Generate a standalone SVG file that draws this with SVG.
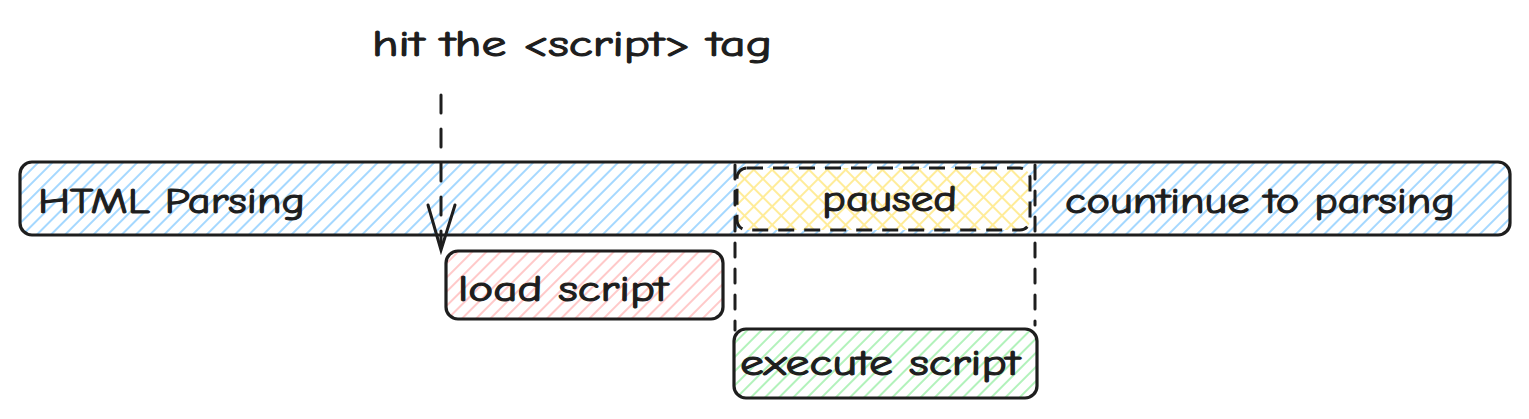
<svg xmlns="http://www.w3.org/2000/svg" width="1529" height="419" viewBox="0 0 1529 419">
<style>
.box{stroke:#1e1e1e;stroke-width:3.2;stroke-linejoin:round}
.lbl{font-family:"Comic Neue","Liberation Sans",sans-serif;font-size:36px;fill:#1e1e1e;stroke:#1e1e1e;stroke-width:1.1}
.dash{stroke:#1e1e1e;stroke-width:3;fill:none;stroke-linecap:round}
</style>
<defs>
<pattern id="hBlue" width="10" height="10" patternUnits="userSpaceOnUse" patternTransform="rotate(45)"><line x1="2" y1="0" x2="2" y2="10" stroke="#a5d8ff" stroke-width="2"/></pattern>
<pattern id="hRed" width="10" height="10" patternUnits="userSpaceOnUse" patternTransform="rotate(45)"><line x1="2" y1="0" x2="2" y2="10" stroke="#ffc9c9" stroke-width="2"/></pattern>
<pattern id="hGreen" width="10" height="10" patternUnits="userSpaceOnUse" patternTransform="rotate(45)"><line x1="2" y1="0" x2="2" y2="10" stroke="#b2f2bb" stroke-width="2"/></pattern>
<pattern id="hYellow" width="13" height="13" patternUnits="userSpaceOnUse" patternTransform="rotate(45)"><line x1="3" y1="0" x2="3" y2="13" stroke="#ffec99" stroke-width="2"/><line x1="0" y1="3" x2="13" y2="3" stroke="#ffec99" stroke-width="2"/></pattern>
</defs>
<rect width="1529" height="419" fill="#ffffff"/>
<g id="main-bar">
<rect class="box" x="20" y="162" width="1490" height="73" rx="12" fill="url(#hBlue)"/>
<text class="lbl" x="38" y="213" textLength="267" lengthAdjust="spacingAndGlyphs">HTML Parsing</text>
<text class="lbl" x="1065" y="213" textLength="390" lengthAdjust="spacingAndGlyphs">countinue to parsing</text>
</g>
<g id="paused">
<rect x="737" y="168" width="293" height="62" rx="10" fill="#ffffff"/>
<rect x="737" y="168" width="293" height="62" rx="10" fill="url(#hYellow)" stroke="#1e1e1e" stroke-width="3" stroke-dasharray="16 10"/>
<text class="lbl" x="822" y="211" textLength="135" lengthAdjust="spacingAndGlyphs">paused</text>
</g>
<g id="load-script">
<rect class="box" x="446" y="251" width="277" height="68" rx="12" fill="url(#hRed)"/>
<text class="lbl" x="458" y="301" textLength="210" lengthAdjust="spacingAndGlyphs">load script</text>
</g>
<g id="execute-script">
<rect class="box" x="734" y="329" width="303" height="69" rx="12" fill="url(#hGreen)"/>
<text class="lbl" x="740" y="375" textLength="280" lengthAdjust="spacingAndGlyphs">execute script</text>
</g>
<g id="hit-label">
<text class="lbl" x="372" y="56" textLength="400" lengthAdjust="spacingAndGlyphs">hit the &lt;script&gt; tag</text>
</g>
<g id="connectors">
<line class="dash" x1="441" y1="95" x2="441" y2="248" stroke-dasharray="18 16"/>
<polyline class="dash" points="428,205 441,250 455,205"/>
<line class="dash" x1="735" y1="165" x2="735" y2="330" stroke-dasharray="14 12"/>
<line class="dash" x1="1035" y1="165" x2="1035" y2="325" stroke-dasharray="14 12"/>
</g>
</svg>
